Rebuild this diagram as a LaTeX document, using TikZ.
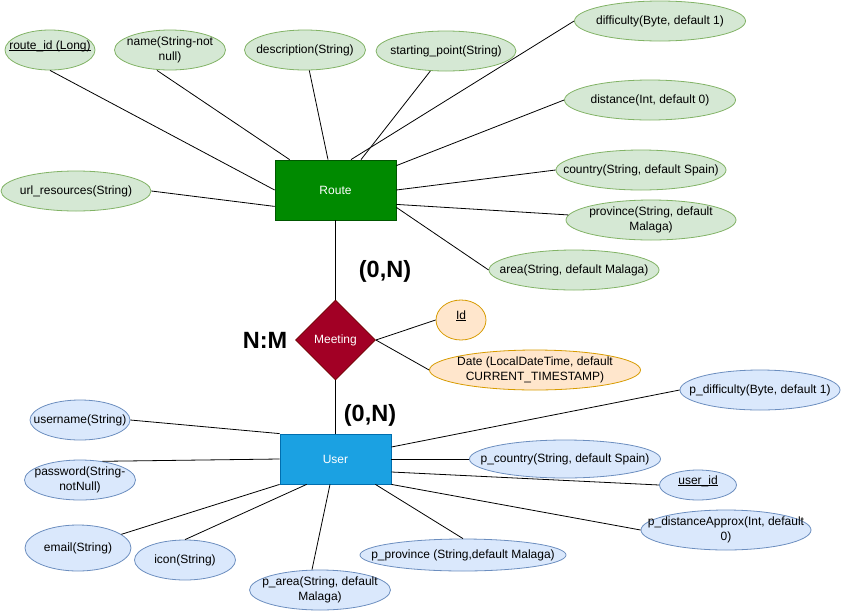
\documentclass[tikz,border=0pt]{standalone}
\usepackage{fontspec}
\setmainfont{Liberation Sans}
\usepackage{xcolor}
\definecolor{GreenFill}{RGB}{213,232,212}
\definecolor{GreenBorder}{RGB}{130,179,102}
\definecolor{BlueFill}{RGB}{218,232,252}
\definecolor{BlueBorder}{RGB}{108,142,191}
\definecolor{OrangeFill}{RGB}{255,230,204}
\definecolor{OrangeBorder}{RGB}{215,155,0}
\definecolor{RouteFill}{RGB}{0,138,0}
\definecolor{RouteBorder}{RGB}{0,87,0}
\definecolor{UserFill}{RGB}{27,161,226}
\definecolor{UserBorder}{RGB}{0,110,175}
\definecolor{MeetFill}{RGB}{162,0,37}
\definecolor{MeetBorder}{RGB}{111,0,0}
\usepackage{tikz}
\usetikzlibrary{
  positioning,
  shapes.geometric
}
\newcommand{\keyattr}[1]{\underline{\smash{#1}}}
\tikzset{
  % Attribute (any colour)
  attr/.style={
    ellipse,
    line width=0.8pt,
    inner xsep=-20pt,
    inner ysep=-8pt,
    minimum height=40pt,
    align=center,
    font=\fontsize{12}{14.5}\selectfont
  },
  % Route attribute
  gattr/.style={attr, draw=GreenBorder, fill=GreenFill},
  % User attribute
  battr/.style={attr, draw=BlueBorder, fill=BlueFill},
  % Meeting attribute
  oattr/.style={attr, draw=OrangeBorder, fill=OrangeFill},
  % Entity
  entity/.style={
    rectangle,
    line width=0.8pt,
    inner sep=0pt,
    text=white,
    font=\fontsize{12}{14.5}\selectfont
  },
  % Relation
  relation/.style={
    diamond,
    draw=MeetBorder,
    fill=MeetFill,
    line width=0.8pt,
    minimum width=80pt,
    minimum height=80pt,
    inner sep=0pt,
    text=white,
    font=\fontsize{12}{14.5}\selectfont
  },
  % Connector
  edge/.style={
    draw=black,
    line width=0.8pt
  },
  % Cardinality label
  card/.style={
    font=\fontsize{23.5}{28}\selectfont\bfseries,
    inner sep=0pt
  }
}

\begin{document}
\begin{tikzpicture}[x=1pt, y=-1pt]
  \useasboundingbox (0,0) rectangle (841,611);
  % entities and relation
  \node[entity, draw=RouteBorder, fill=RouteFill, minimum width=121pt, minimum height=60pt] (route) at (335.5,190) {Route};
  \node[relation] (meeting) at (335.5,340) {Meeting};
  \node[entity, draw=UserBorder, fill=UserFill, minimum width=111pt, minimum height=50pt] (user) at (335.5,459) {User};
  % route attributes
  \node[gattr, minimum width=90pt] (rid) at (50,50) {\keyattr{route\_id (Long)}};
  \node[gattr, minimum width=111pt] (rname) at (170,50) {name(String-not\\null)};
  \node[gattr, minimum width=121pt] (rdesc) at (305,50) {description(String)};
  \node[gattr, minimum width=140pt] (rstart) at (446,51) {starting\_point(String)};
  \node[gattr, minimum width=171pt] (rdiff) at (660,21) {difficulty(Byte, default 1)};
  \node[gattr, minimum width=171pt] (rdist) at (650,100) {distance(Int, default 0)};
  \node[gattr, minimum width=170pt] (rcountry) at (641,170) {country(String, default Spain)};
  \node[gattr, minimum width=170pt] (rprov) at (651,220) {province(String, default\\Malaga)};
  \node[gattr, minimum width=170pt] (rarea) at (574,270) {area(String, default Malaga)};
  \node[gattr, minimum width=150pt] (rurl) at (76,191) {url\_resources(String)};
  % meeting attributes
  \node[oattr, minimum width=50pt] (mid) at (461,320) {\keyattr{Id}};
  \node[oattr, minimum width=211pt] (mdate) at (535,370) {Date (LocalDateTime, default\\CURRENT\_TIMESTAMP)};
  % user attributes
  \node[battr, minimum width=100pt] (uname) at (80,420) {username(String)};
  \node[battr, minimum width=111pt] (upass) at (80,480) {password(String-\\notNull)};
  \node[battr, minimum width=106pt, minimum height=46pt] (uemail) at (78,548) {email(String)};
  \node[battr, minimum width=101pt] (uicon) at (185,560) {icon(String)};
  \node[battr, minimum width=141pt] (uarea) at (320,590) {p\_area(String, default\\Malaga)};
  \node[battr, minimum width=206pt, minimum height=32pt] (uprov) at (463,555) {p\_province (String,default Malaga)};
  \node[battr, minimum width=170pt] (udist) at (726,530) {p\_distanceApprox(Int, default\\0)};
  \node[battr, minimum width=77pt, minimum height=30pt] (uid) at (698,485) {\keyattr{user\_id}};
  \node[battr, minimum width=191pt, minimum height=38pt] (ucountry) at (565,459) {p\_country(String, default Spain)};
  \node[battr, minimum width=160pt] (udiff) at (760,390) {p\_difficulty(Byte, default 1)};
  % cardinalities
  \node[card] (cardtop) at (385,271) {(0,N)};
  \node[card] (cardbot) at (370,415) {(0,N)};
  \node[card] (ratio) at (265,340) {N:M};
  % connectors
  \draw[edge] (route) -- (meeting);
  \draw[edge] (meeting) -- (user);
  \draw[edge] (meeting.east) -- (mid.west);
  \draw[edge] (meeting.east) -- (mdate.west);
  \draw[edge] (rid.south) -- (route.west);
  \draw[edge] ([xshift=-13pt]rname.south) -- ([xshift=15pt]route.north west);
  \draw[edge] (rdesc) -- ([xshift=-7.5pt]route.north);
  \draw[edge] (rstart) -- ([xshift=25.5pt]route.north);
  \draw[edge] (rdiff.west) -- ([xshift=15.5pt]route.north);
  \draw[edge] (rdist.west) -- ([yshift=-6pt]route.north east);
  \draw[edge] (rcountry.west) -- (route.east);
  \draw[edge] (rprov) -- ([yshift=16pt]route.south east);
  \draw[edge] (rarea.west) -- ([yshift=13pt]route.south east);
  \draw[edge] (rurl.east) -- ([yshift=14pt]route.south west);
  \draw[edge] (uname.east) -- (user.north west);
  \draw[edge] (upass.40) -- (user.west);
  \draw[edge] (uemail) -- (user.south west);
  \draw[edge] (uicon.north) -- ([xshift=27pt]user.south west);
  \draw[edge] ([xshift=-8pt]uarea.north) -- ([xshift=-5.5pt]user.south);
  \draw[edge] (uprov.north) -- ([xshift=-16pt]user.south east);
  \draw[edge] (udist.west) -- (user.south east);
  \draw[edge] (uid.west) -- ([yshift=-13pt]user.east);
  \draw[edge] (ucountry.west) -- (user.east);
  \draw[edge] (udiff.west) -- ([yshift=12pt]user.east);
\end{tikzpicture}
\end{document}
